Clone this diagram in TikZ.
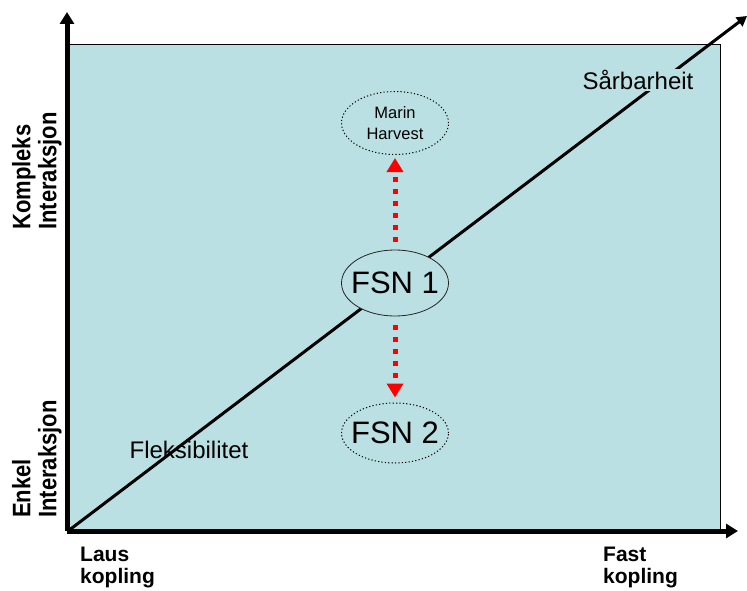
\documentclass[tikz,border=0pt]{standalone}
\usepackage{fontspec}
\setmainfont{Liberation Sans}
\usetikzlibrary{shapes.geometric,arrows.meta}
\definecolor{bg}{RGB}{187,224,227}
\definecolor{redarrow}{RGB}{255,0,0}
\begin{document}
\begin{tikzpicture}[x=1pt,y=-1pt,
  axis/.style={line width=5pt,-{Triangle[length=12pt,width=14pt]}},
  diag/.style={line width=3pt,-{Triangle[length=10pt,width=11pt]}},
  bubble/.style={ellipse,inner sep=0pt,fill=bg,minimum width=107pt},
  solidbubble/.style={bubble,draw=black!85,line width=0.8pt},
  dotbubble/.style={bubble,draw,line width=1pt,dash pattern=on 1.2pt off 2.2pt},
  redarr/.style={redarrow,line width=5pt,dash pattern=on 5pt off 7pt,-{Triangle[length=14pt,width=16pt]}},
  axislabel/.style={font=\bfseries\fontsize{21}{22}\selectfont,align=left,inner sep=0pt,anchor=north west},
  sidelabel/.style={rotate=90,inner sep=0pt,anchor=west},
  plainlabel/.style={font=\fontsize{24}{28}\selectfont,inner sep=1.5pt}
]
\useasboundingbox (0,0) rectangle (747,591);
\fill[bg] (67,45) rectangle (720,530);
\draw[line width=1pt] (67,45) -- (720,45) -- (720,530);

\coordinate (O) at (67,531);
\coordinate (Ytop) at (67,12);
\coordinate (Xend) at (738,531);
\coordinate (Dstart) at (68,531);
\coordinate (Dend) at (747,16);

\draw[diag] (Dstart) -- (Dend);
\draw[axis] (O) -- (Ytop);
\draw[axis] (O) -- (Xend);

\node[solidbubble,inner xsep=-7pt,minimum height=66pt,font=\fontsize{31}{34}\selectfont] (fsn1) at (395,283) {FSN 1};
\node[dotbubble,minimum height=63pt,font=\fontsize{16.5}{21}\selectfont,align=center] (marin) at (395,123) {Marin\\Harvest};
\node[dotbubble,inner xsep=-7pt,minimum height=60pt,font=\fontsize{31}{34}\selectfont] (fsn2) at (395,433) {FSN 2};

\draw[redarr,shorten <=8pt,shorten >=3pt] (fsn1) -- (marin);
\draw[redarr,shorten <=9pt,shorten >=5pt] (fsn1) -- (fsn2);

\node[plainlabel,fill=bg] (sar) at (638,80) {Sårbarheit};
\node[plainlabel] (flex) at (189,450) {Fleksibilitet};

\node[sidelabel] (kompleks) at (38,230) {\scalebox{1}[1.15]{\bfseries\fontsize{22}{22}\selectfont\begin{tabular}{@{}l@{}}Kompleks\\Interaksjon\end{tabular}}};
\node[sidelabel] (enkel) at (38,518) {\scalebox{1}[1.15]{\bfseries\fontsize{22}{22}\selectfont\begin{tabular}{@{}l@{}}Enkel\\Interaksjon\end{tabular}}};

\node[axislabel] (laus) at (80,547) {Laus\\kopling};
\node[axislabel] (fast) at (603,547) {Fast\\kopling};
\end{tikzpicture}
\end{document}
